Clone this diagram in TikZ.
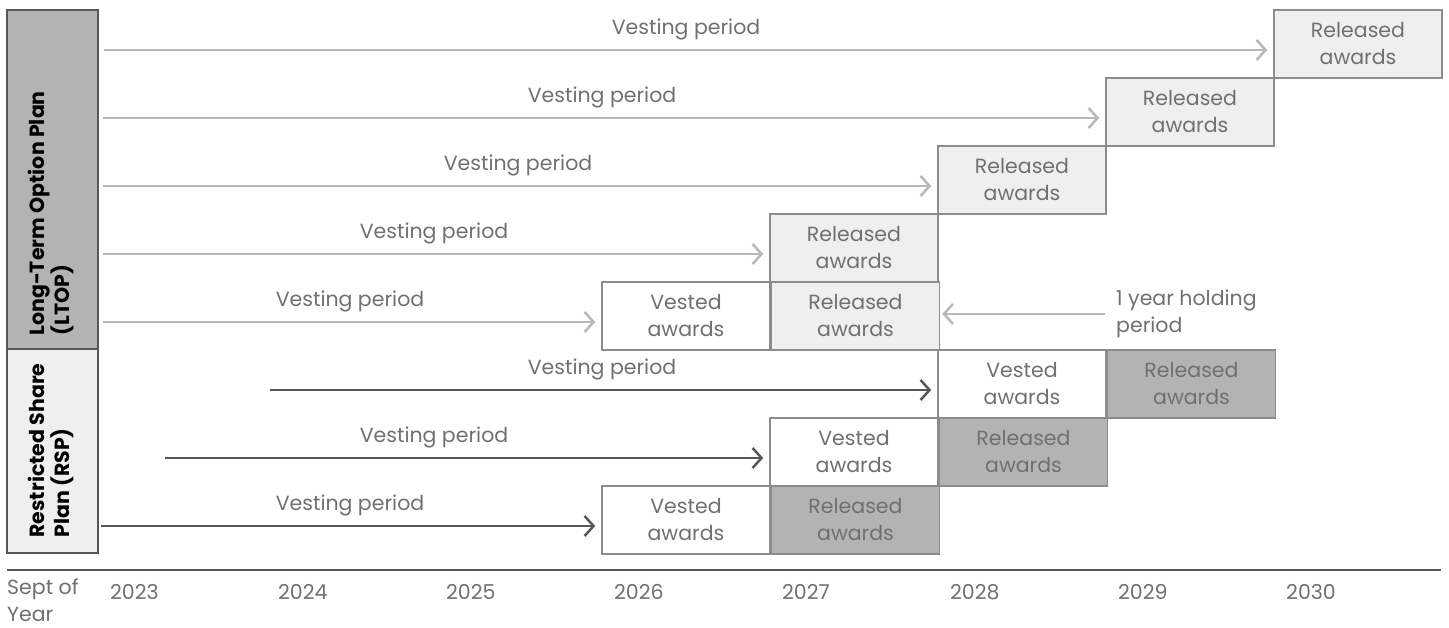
\documentclass[tikz,border=0pt]{standalone}
\usepackage{fontspec}
\setmainfont{Poppins}
\usetikzlibrary{positioning, arrows.meta}
\definecolor{boxline}{HTML}{8C8C8C}
\definecolor{txtgray}{HTML}{707070}
\definecolor{lightfill}{HTML}{EFEFEF}
\definecolor{darkfill}{HTML}{B3B3B3}
\definecolor{lightarrow}{HTML}{B8B8B8}
\definecolor{darkarrow}{HTML}{575757}
\tikzset{
	every node/.append style={
		font={\fontsize{20.5}{27}\selectfont},
		text=txtgray,
	},
	award/.append style={
		draw=boxline,
		line width=1.5pt,
		align=center,
		minimum width=168pt,
		minimum height=68pt,
		inner sep=0pt,
	},
	vested/.append style={award, fill=white},
	released/.append style={award, fill=lightfill},
	releaseddark/.append style={award, fill=darkfill},
	plan/.append style={
		draw=darkarrow,
		line width=1.5pt,
		minimum width=91pt,
	},
	planlbl/.append style={
		rotate=90,
		anchor=west,
		align=left,
		text=black,
		font={\fontsize{20.5}{25}\selectfont\bfseries},
	},
	labe/.append style={
		inner sep=0pt,
	},
	ltoparrow/.append style={
		draw=lightarrow,
		line width=2.5pt,
		-{Straight Barb[length=9pt, width=20pt]},
		shorten >=6pt,
	},
	rsparrow/.append style={
		ltoparrow,
		draw=darkarrow,
	},
}

\begin{document}
\begin{tikzpicture}[x=1pt, y=-1pt]
		\useasboundingbox (0,0) rectangle (1449,628);
		% plan boxes
		\draw[plan, fill=darkfill] (7,10) rectangle (98,349);
		\draw[plan, fill=lightfill] (7,349) rectangle (98,553);
		\node(ltop)[planlbl] at (51,339) {Long-Term Option Plan\\(LTOP)};
		\node(rsp)[planlbl] at (51,541) {Restricted Share\\Plan (RSP)};
		
		% LTOP awards
		\node(rel1)[released] at (1358,44) {Released\\awards};
		\node(rel2)[released] at (1190,112) {Released\\awards};
		\node(rel3)[released] at (1022,180) {Released\\awards};
		\node(rel4)[released] at (854,248) {Released\\awards};
		\node(ves5)[vested] at (686,316) {Vested\\awards};
		\node(rel5)[released, right=0 of ves5] {Released\\awards};
		
		% RSP awards
		\node(ves6)[vested] at (1022,384) {Vested\\awards};
		\node(rel6)[releaseddark, right=0 of ves6] {Released\\awards};
		\node(ves7)[vested] at (854,452) {Vested\\awards};
		\node(rel7)[releaseddark, right=0 of ves7] {Released\\awards};
		\node(ves8)[vested] at (686,520) {Vested\\awards};
		\node(rel8)[releaseddark, right=0 of ves8] {Released\\awards};
		
		% arrow starts
		\coordinate(s1) at (104,50);
		\coordinate(s2) at (103,118);
		\coordinate(s3) at (103,186);
		\coordinate(s4) at (103,254);
		\coordinate(s5) at (103,322);
		\coordinate(s6) at (270,390);
		\coordinate(s7) at (165,458);
		\coordinate(s8) at (101,526);
		
		\draw[ltoparrow] (s1) -- (s1 -| rel1.west);
		\draw[ltoparrow] (s2) -- (s2 -| rel2.west);
		\draw[ltoparrow] (s3) -- (s3 -| rel3.west);
		\draw[ltoparrow] (s4) -- (s4 -| rel4.west);
		\draw[ltoparrow] (s5) -- (s5 -| ves5.west);
		\draw[rsparrow] (s6) -- (s6 -| ves6.west);
		\draw[rsparrow] (s7) -- (s7 -| ves7.west);
		\draw[rsparrow] (s8) -- (s8 -| ves8.west);
		
		\node(lab1)[labe] at (686,29) {Vesting period};
		\node(lab2)[labe] at (602,97) {Vesting period};
		\node(lab3)[labe] at (518,165) {Vesting period};
		\node(lab4)[labe] at (434,233) {Vesting period};
		\node(lab5)[labe] at (350,301) {Vesting period};
		\node(lab6)[labe] at (602,369) {Vesting period};
		\node(lab7)[labe] at (434,437) {Vesting period};
		\node(lab8)[labe] at (350,505) {Vesting period};
		
		% holding period
		\node(hold)[labe, anchor=west, align=left] at (1116,314) {1 year holding\\period};
		\draw[ltoparrow, shorten >=2pt] ([xshift=-11pt]hold.west) -- (hold.west -| rel5.east);
		
		% time axis
		\draw[darkarrow, line width=1.5pt] (7,570) -- (1441,570);
		\node(sept)[labe, anchor=north west, align=left] at (7,579) {Sept of\\Year};
		\node(y2023)[labe, anchor=west] at (110,592) {2023};
		\node(y2024)[labe, anchor=west] at (278,592) {2024};
		\node(y2025)[labe, anchor=west] at (446,592) {2025};
		\node(y2026)[labe, anchor=west] at (614,592) {2026};
		\node(y2027)[labe, anchor=west] at (782,592) {2027};
		\node(y2028)[labe, anchor=west] at (950,592) {2028};
		\node(y2029)[labe, anchor=west] at (1118,592) {2029};
		\node(y2030)[labe, anchor=west] at (1286,592) {2030};
\end{tikzpicture}
\end{document}
